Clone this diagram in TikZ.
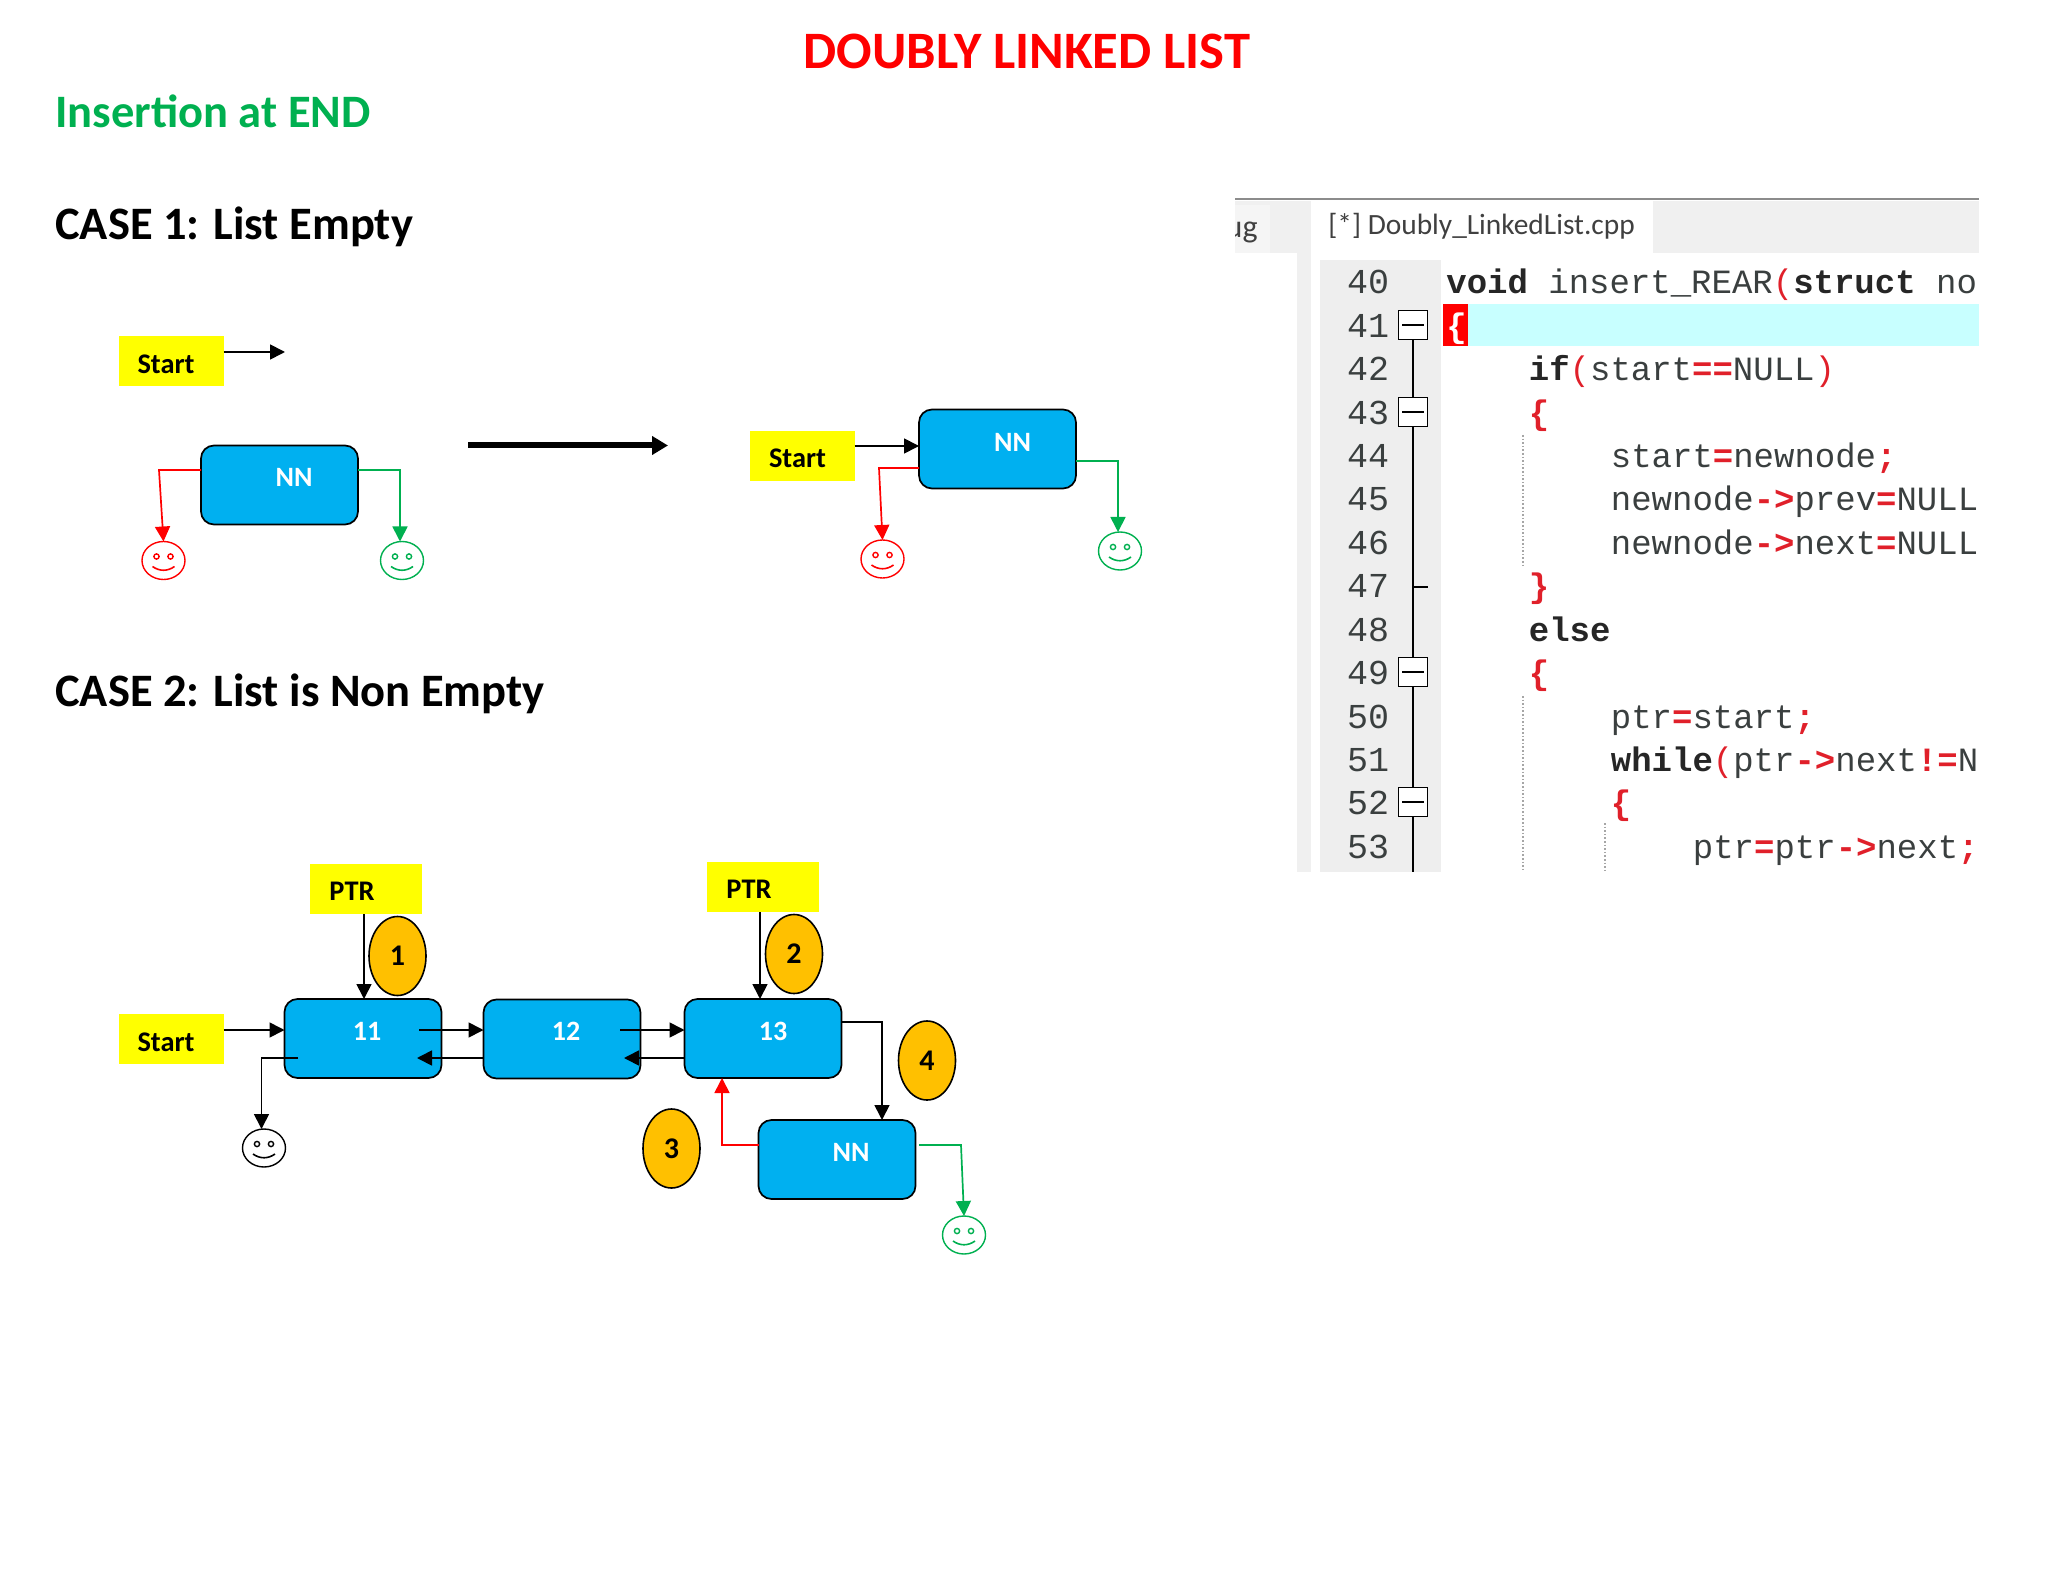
\documentclass[tikz,border=0pt]{standalone}
\usepackage{fontspec}
\setmainfont{Carlito}
\setmonofont{Liberation Mono}
\usetikzlibrary{arrows.meta,shapes.geometric}
\definecolor{nodeblue}{HTML}{00B0F0}
\definecolor{badge}{HTML}{FFC000}
\definecolor{pgreen}{HTML}{00B050}
\definecolor{pyellow}{RGB}{255,255,0}
\definecolor{pred}{RGB}{255,0,0}
\definecolor{codetext}{HTML}{3A3F3F}
\definecolor{opred}{HTML}{E0202A}
\definecolor{gutter}{HTML}{EEEEEE}
\definecolor{tabbar}{HTML}{F0F0F0}
\definecolor{hl}{HTML}{C8FFFF}
\newcommand{\kw}[1]{\textbf{\textcolor{black!85}{#1}}}
\newcommand{\op}[1]{\textbf{\textcolor{opred}{#1}}}
\newcommand{\pa}[1]{\textcolor{opred}{#1}}
\newcommand{\smileyface}[2]{% name, colour
  \draw[#2,line width=0.7pt] ([shift={(-7,-4)}]#1.center) circle (1.3pt);
  \draw[#2,line width=0.7pt] ([shift={(7,-4)}]#1.center) circle (1.3pt);
  \draw[#2,line width=0.8pt] ([shift={(-11,6)}]#1.center) .. controls ([shift={(-4,11)}]#1.center) and ([shift={(4,11)}]#1.center) .. ([shift={(11,6)}]#1.center);
}
\tikzset{
  x=0.5pt,y=-0.5pt,
  bluebox/.style={draw=black,line width=0.85pt,fill=nodeblue,rounded corners=6.5pt,minimum width=78.5pt,minimum height=39.5pt,inner sep=0pt,outer sep=0pt},
  yellowbox/.style={fill=pyellow,minimum width=52.5pt,minimum height=25pt,inner sep=0pt,outer sep=0pt},
  ptrbox/.style={yellowbox,minimum width=56pt},
  whitelabel/.style={text=white,font=\fontsize{14}{14}\selectfont\bfseries,inner sep=0pt},
  blacklabel/.style={text=black,font=\fontsize{14.2}{14}\selectfont\bfseries,inner sep=0pt},
  stepbadge/.style={shape=ellipse,draw=black,line width=0.8pt,fill=badge,minimum width=28.5pt,minimum height=39.5pt,inner sep=0pt,outer sep=0pt,font=\fontsize{15}{15}\selectfont\bfseries},
  smiley/.style={shape=ellipse,draw=#1,line width=0.7pt,fill=white,minimum width=21.5pt,minimum height=19pt,inner sep=0pt,outer sep=0pt},
  blk/.style={draw=black,line width=0.85pt,-{Triangle[length=7.5pt,width=7.5pt]}},
  redc/.style={draw=pred,line width=0.85pt,-{Triangle[length=7.5pt,width=7.5pt]}},
  grnc/.style={draw=pgreen,line width=0.85pt,-{Triangle[length=7.5pt,width=7.5pt]}},
  bigarrow/.style={draw=black,line width=3pt,-{Triangle[length=8pt,width=9pt]}},
  heading/.style={anchor=west,inner sep=0pt,font=\fontsize{23.25}{23}\selectfont\bfseries},
  lnum/.style={inner sep=0pt,anchor=base,text=codetext,font=\fontsize{17.5}{17}\selectfont\ttfamily},
  codeline/.style={anchor=base west,inner sep=0pt,text=codetext,font=\fontsize{17}{17}\selectfont\ttfamily},
  foldbox/.style={draw=black,line width=0.85pt,fill=white,minimum size=14.5pt,inner sep=0pt,outer sep=0pt},
  guide/.style={draw=black!35,line width=0.8pt,densely dotted},
}
\begin{document}
\begin{tikzpicture}
\useasboundingbox (0,0) rectangle (2048,1582);
\fill[white] (0,0) rectangle (2048,1582);
% headings
\node[inner sep=0pt,text=pred,font=\fontsize{26.3}{26}\selectfont\bfseries] (title) at (1027,51) {DOUBLY LINKED LIST};
\node[heading,text=pgreen] (ins) at (55,111) {Insertion at END};
\node[heading] (case1) at (55,227) {CASE 1: List Empty};
\node[heading] (case2) at (55,694) {CASE 2: List is Non Empty};

% CASE 1 left
\node[yellowbox] (s1) at (171,361.5) {};
\node[blacklabel] (s1t) at (166,364) {Start};
\coordinate (s1e) at (285,352);
\draw[blk] (s1.east |- s1e) -- (s1e);
\node[bluebox] (nn1) at (279.5,485) {};
\node[whitelabel] (nn1t) at (294,477.5) {NN};
\node[smiley=pred] (sr1) at (163.5,560.5) {};
\smileyface{sr1}{pred}
\node[smiley=pgreen] (sg1) at (402,560.5) {};
\smileyface{sg1}{pgreen}
\coordinate (r1) at (159,470);
\coordinate (g1) at (400,470);
\draw[redc] (nn1.west |- r1) -- (r1) -- (sr1.north);
\draw[grnc] (nn1.east |- g1) -- (g1) -- (g1 |- sg1.north);

% big arrow
\coordinate (ba) at (468,445.5);
\coordinate (bb) at (668,445.5);
\draw[bigarrow] (ba) -- (bb);

% CASE 1 right
\node[yellowbox] (s2) at (802,456.5) {};
\node[blacklabel] (s2t) at (797.5,458) {Start};
\node[bluebox] (nn2) at (997.5,449) {};
\node[whitelabel] (nn2t) at (1012.5,442) {NN};
\coordinate (s2y) at (857,446);
\draw[blk] (s2.east |- s2y) -- (nn2.west |- s2y);
\node[smiley=pred] (sr2) at (882.5,559) {};
\smileyface{sr2}{pred}
\node[smiley=pgreen] (sg2) at (1120,551) {};
\smileyface{sg2}{pgreen}
\coordinate (r2) at (879,468);
\coordinate (g2) at (1118,461);
\draw[redc] (nn2.west |- r2) -- (r2) -- (sr2.north);
\draw[grnc] (nn2.east |- g2) -- (g2) -- (g2 |- sg2.north);

% CASE 2
\node[ptrbox] (p1) at (365.5,889) {};
\node[blacklabel] (p1t) at (352,891) {PTR};
\node[ptrbox] (p2) at (762.5,887) {};
\node[blacklabel] (p2t) at (749,889) {PTR};
\node[stepbadge] (b1) at (397.5,956) {1};
\node[stepbadge] (b2) at (794,954) {2};
\node[stepbadge] (b3) at (671.5,1148.5) {3};
\node[stepbadge] (b4) at (927,1060.5) {4};
\node[yellowbox] (s3) at (171,1039) {};
\node[blacklabel] (s3t) at (166,1042) {Start};
\node[bluebox] (n11) at (363,1038.5) {};
\node[whitelabel] (n11t) at (367,1031) {11};
\node[bluebox] (n12) at (562,1039) {};
\node[whitelabel] (n12t) at (566,1031) {12};
\node[bluebox] (n13) at (763,1038.5) {};
\node[whitelabel] (n13t) at (773,1031) {13};
\node[bluebox] (n14) at (837,1159.5) {};
\node[whitelabel] (n14t) at (851,1152) {NN};
\node[smiley=black] (sk) at (264,1148) {};
\smileyface{sk}{black}
\node[smiley=pgreen] (sg3) at (964,1235) {};
\smileyface{sg3}{pgreen}
% connectors
\coordinate (q1) at (364,0);
\coordinate (q2) at (760,0);
\draw[blk] (p1.south -| q1) -- (n11.north -| q1);
\draw[blk] (p2.south -| q2) -- (n13.north -| q2);
\coordinate (y30) at (0,1030);
\coordinate (a11) at (419,1030);
\coordinate (a12) at (417,1058);
\coordinate (a13) at (620,1030);
\coordinate (a14) at (624,1058);
\draw[blk] (s3.east |- y30) -- (n11.west |- y30);
\draw[blk] (a11) -- (n12.west |- a11);
\draw[blk] (n12.west |- a12) -- (a12);
\draw[blk] (a13) -- (n13.west |- a13);
\draw[blk] (n13.west |- a14) -- (a14);
\coordinate (k0) at (298,1058);
\coordinate (k1) at (261.5,1058);
\draw[blk] (k0) -- (k1) -- (k1 |- sk.north);
\coordinate (d1) at (882,1022);
\draw[blk] (n13.east |- d1) -- (d1) -- (d1 |- n14.north);
\coordinate (e1) at (722,1145);
\draw[redc] (n14.west |- e1) -- (e1) -- (e1 |- n13.south);
\coordinate (f0) at (919,1145);
\coordinate (f1) at (961,1145);
\draw[grnc] (f0) -- (f1) -- (sg3.north);

% code panel
\begin{scope}
\clip (1235,195) rectangle (1979,872);
\fill[tabbar] (1235,201) rectangle (1979,253);
\fill[black!4] (1235,205) rectangle (1270,253);
\fill[white] (1311,201) rectangle (1653,253);
\fill[tabbar] (1297,253) rectangle (1311,872);
\fill[gutter] (1320,260) rectangle (1441,872);
\draw[black!45,line width=1.2pt] (1235,199) -- (1979,199);
\node[anchor=east,inner sep=0pt,text=black!75,font=\fontsize{16}{16}\selectfont] (ug) at (1258,232) {ug};
\node[anchor=west,inner sep=0pt,text=black!75,font=\fontsize{14.7}{15}\selectfont] (tab) at (1328,226) {[*] Doubly\_LinkedList.cpp};
\fill[hl] (1443,304) rectangle (1979,346);
\fill[red] (1443,304) rectangle (1468,346);
\draw[guide] (1523,435) -- (1523,565);
\draw[guide] (1523,696) -- (1523,872);
\draw[guide] (1605,823) -- (1605,872);
\draw[black,line width=0.85pt] (1413,325) -- (1413,872);
\draw[black,line width=0.85pt] (1413,587) -- (1428,587);
\foreach \n/\y in {f41/325,f43/412,f49/672,f52/802}{
  \node[foldbox] (\n) at (1413,\y) {};
  \draw[black,line width=0.85pt] ([xshift=1.8pt]\n.west) -- ([xshift=-1.8pt]\n.east);
}
\foreach \k [count=\i from 0] in {40,...,53}{
  \node[lnum] (ln\k) at (1368,294+43.4*\i) {\k};
}
\node[codeline] (c40) at (1446,294) {\kw{void} insert\_REAR\pa{(}\kw{struct} no};
\node[codeline,text=white] (c41) at (1446,337.4) {\textbf{\{}};
\node[codeline] (c42) at (1528.5,380.8) {\kw{if}\pa{(}start\op{==}NULL\pa{)}};
\node[codeline] (c43) at (1528.5,424.2) {\op{\{}};
\node[codeline] (c44) at (1610.5,467.6) {start\op{=}newnode\op{;}};
\node[codeline] (c45) at (1610.5,511) {newnode\op{->}prev\op{=}NULL};
\node[codeline] (c46) at (1610.5,554.4) {newnode\op{->}next\op{=}NULL};
\node[codeline] (c47) at (1528.5,597.8) {\op{\}}};
\node[codeline] (c48) at (1528.5,641.2) {\kw{else}};
\node[codeline] (c49) at (1528.5,684.6) {\op{\{}};
\node[codeline] (c50) at (1610.5,728) {ptr\op{=}start\op{;}};
\node[codeline] (c51) at (1610.5,771.4) {\kw{while}\pa{(}ptr\op{->}next\op{!=}N};
\node[codeline] (c52) at (1610.5,814.8) {\op{\{}};
\node[codeline] (c53) at (1692.5,858.2) {ptr\op{=}ptr\op{->}next\op{;}};
\end{scope}
\end{tikzpicture}
\end{document}
